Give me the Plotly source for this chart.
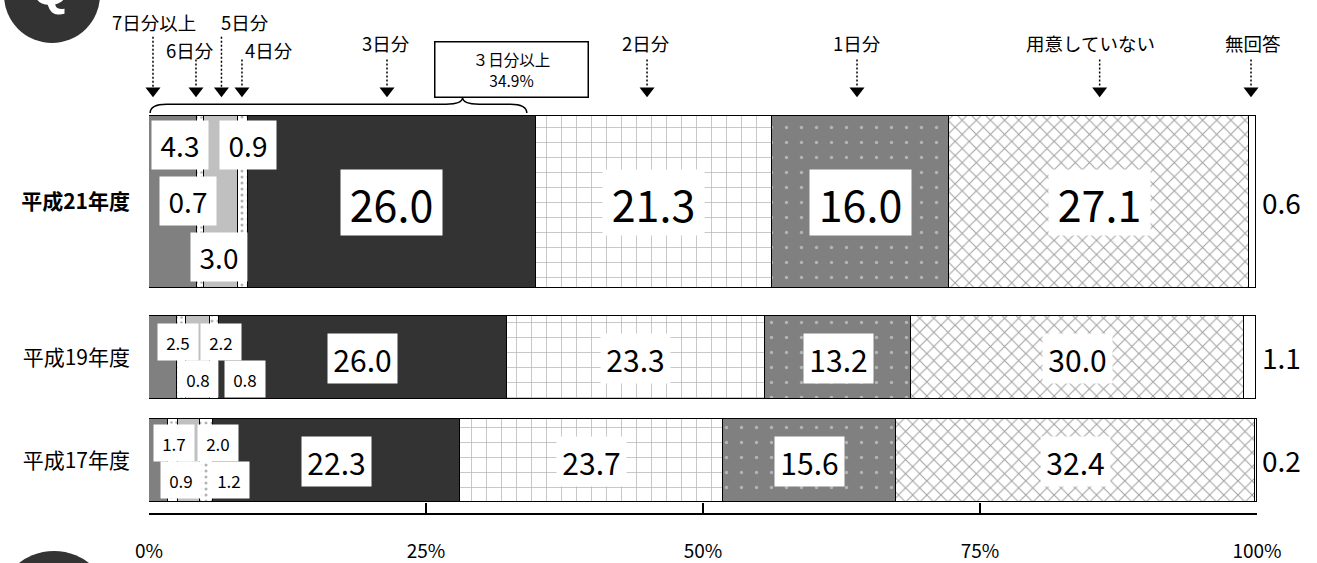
import plotly.graph_objects as go

# ---------------- data ----------------
years = ["平成21年度", "平成19年度", "平成17年度"]
categories = ["7日分以上", "6日分", "5日分", "4日分", "3日分", "2日分", "1日分", "用意していない", "無回答"]
v_h21 = [4.3, 0.7, 3.0, 0.9, 26.0, 21.3, 16.0, 27.1, 0.6]
v_h19 = [2.5, 0.8, 2.2, 0.8, 26.0, 23.3, 13.2, 30.0, 1.1]
v_h17 = [1.7, 0.9, 2.0, 1.2, 22.3, 23.7, 15.6, 32.4, 0.2]
x_ticks = [0, 25, 50, 75, 100]
x_tick_labels = ["0%", "25%", "50%", "75%", "100%"]
summary_label = "３日分以上"

values = [v_h21, v_h19, v_h17]

# ---------------- layout constants (positions / styles) ----------------
W, H = 1317, 563
ML, MR, MT, MB = 149, 60, 0, 46
bar_pos = [203.5, 360, 464]        # bar centres (y axis in px-like units)
bar_thick = [173, 84, 84]

FONT = "Noto Sans CJK JP, sans-serif"

styles = [
    dict(color="#808080"),
    dict(color="white", pattern=dict(shape=".", fgcolor="#666666", bgcolor="white",
                                     size=5, solidity=0.2, fillmode="overlay")),
    dict(color="#c0c0c0"),
    dict(color="white", pattern=dict(shape=".", fgcolor="#666666", bgcolor="white",
                                     size=6, solidity=0.2, fillmode="overlay")),
    dict(color="#333333"),
    dict(color="white", pattern=dict(shape="+", fgcolor="#6e6e6e", bgcolor="white",
                                     size=15, solidity=0.1, fillmode="overlay")),
    dict(color="#808080", pattern=dict(shape=".", fgcolor="#e8e8e8", bgcolor="#808080",
                                       size=15, solidity=0.04, fillmode="overlay")),
    dict(color="white", pattern=dict(shape="x", fgcolor="#444444", bgcolor="white",
                                     size=10, solidity=0.2, fillmode="overlay")),
    dict(color="white"),
]

# small-label placement (x in data units, y offset from bar centre)
small_pos = [
    [(2.8, -57), (3.5, -1), (6.3, 55), (8.95, -57)],
    [(2.6, -15), (4.4, 22), (6.5, -15), (8.7, 22)],
    [(2.3, -18), (2.9, 20), (6.2, -18), (7.2, 20)],
]
big_style = [dict(size=43, w=97, h=61), dict(size=30, w=65, h=45), dict(size=30, w=65, h=45)]
small_style = [dict(size=28, w=52, h=44), dict(size=17, w=36, h=32), dict(size=17, w=36, h=32)]

# header arrows
head_arrow_x = [0.36, 4.24, 6.54, 8.39, 21.48, 44.95, 63.9, 85.8, 99.46]
head_line_top = [37, 60, 37, 60, 60, 60, 60, 60, 60]
head_label_x = [0.45, 3.7, 8.7, 10.8, 21.4, 44.9, 63.9, 85.0, 99.6]
head_label_y = [22, 50, 22, 50, 43, 43, 43, 43, 43]
ARROW_BOTTOM = 88

fig = go.Figure()

for i, cat in enumerate(categories):
    st = styles[i]
    marker = dict(color=st["color"], line=dict(color="black", width=1.5))
    if "pattern" in st:
        marker["pattern"] = st["pattern"]
    fig.add_trace(go.Bar(
        y=bar_pos, x=[vals[i] for vals in values], width=bar_thick,
        orientation="h", name=cat, marker=marker, showlegend=False,
        hoverinfo="x+name",
    ))

annotations = []
for r, vals in enumerate(values):
    cum = 0.0
    for i, v in enumerate(vals):
        start = cum
        cum += v
        txt = f"{v:.1f}"
        if 4 <= i <= 7:
            s = big_style[r]
            annotations.append(dict(
                x=start + v / 2, y=bar_pos[r] + 1, xref="x", yref="y", text=txt,
                showarrow=False, bgcolor="white", borderpad=2, width=s["w"], height=s["h"],
                font=dict(family=FONT, size=s["size"], color="black")))
        elif i < 4:
            s = small_style[r]
            px, dy = small_pos[r][i]
            annotations.append(dict(
                x=px, y=bar_pos[r] + dy, xref="x", yref="y", text=txt,
                showarrow=False, bgcolor="white", borderpad=2, width=s["w"], height=s["h"],
                font=dict(family=FONT, size=s["size"], color="black")))
        else:
            annotations.append(dict(
                x=100, y=bar_pos[r], xref="x", yref="y", text=txt, xanchor="left",
                xshift=3, showarrow=False,
                font=dict(family=FONT, size=28, color="black")))

# header labels
for i, cat in enumerate(categories):
    annotations.append(dict(
        x=head_label_x[i], y=head_label_y[i], xref="x", yref="y", text=cat,
        showarrow=False, font=dict(family=FONT, size=18.5, color="black")))

# summary box (3日分以上)
ge3 = sum(v_h21[:5])
annotations.append(dict(
    x=32.76, y=70, xref="x", yref="y",
    text=f"{summary_label}<br>{ge3:.1f}%", showarrow=False,
    bgcolor="white", bordercolor="black", borderwidth=1.5, borderpad=1,
    width=150, height=52, font=dict(family=FONT, size=15.5, color="black")))

# decorative "Q" badge
annotations.append(dict(
    x=0, y=1, xref="paper", yref="paper", xanchor="center", yanchor="middle",
    xshift=-99, yshift=12,
    text="<b>Q</b>", showarrow=False,
    font=dict(family="Liberation Sans, Arial, sans-serif", size=50, color="white")))

# header arrows: dotted lines + triangle heads
lx, ly = [], []
for ax_, top in zip(head_arrow_x, head_line_top):
    lx += [ax_, ax_, None]
    ly += [top, ARROW_BOTTOM, None]
fig.add_trace(go.Scatter(x=lx, y=ly, mode="lines", cliponaxis=False, showlegend=False,
                         hoverinfo="skip",
                         line=dict(color="black", width=1.5, dash="2px,2px")))
fig.add_trace(go.Scatter(x=head_arrow_x, y=[ARROW_BOTTOM + 3.5] * len(head_arrow_x),
                         mode="markers", cliponaxis=False, showlegend=False, hoverinfo="skip",
                         marker=dict(symbol="triangle-down", size=13, color="black")))

shapes = [
    # curly brace spanning 7日分以上 .. 3日分
    dict(type="path", xref="x", yref="y",
         path="M 0.1,114 Q 0.1,105 1.6,105 L 26.8,105 Q 28.3,105 28.3,98 "
              "Q 28.3,105 29.8,105 L 32.6,105 Q 34.1,105 34.1,114",
         line=dict(color="black", width=1.5)),
    # decorative circles
    dict(type="circle", xref="paper", yref="paper", xsizemode="pixel", ysizemode="pixel",
         xanchor=0, yanchor=1, x0=-145, x1=-49, y0=-43, y1=53,
         fillcolor="#333333", line=dict(width=0), layer="below"),
    dict(type="circle", xref="paper", yref="paper", xsizemode="pixel", ysizemode="pixel",
         xanchor=0, yanchor=0, x0=-152, x1=-38, y0=-152, y1=-38,
         fillcolor="#333333", line=dict(width=0), layer="below"),
]

fig.update_layout(
    width=W, height=H, autosize=False,
    margin=dict(l=ML, r=MR, t=MT, b=MB, pad=0),
    barmode="stack", bargap=0,
    plot_bgcolor="white", paper_bgcolor="white",
    annotations=annotations, shapes=shapes,
    font=dict(family=FONT, color="black"),
    xaxis=dict(range=[0, 100], tickmode="array", tickvals=x_ticks, ticktext=x_tick_labels,
               showgrid=False, zeroline=False, showline=True, linecolor="black", linewidth=1.5,
               ticks="inside", ticklen=10, tickwidth=1.5, tickcolor="black",
               ticklabelstandoff=20,
               tickfont=dict(family="Liberation Sans Narrow, " + FONT, size=19, color="black"),
               fixedrange=True),
    yaxis=dict(range=[H - MB, 0], tickmode="array", tickvals=bar_pos,
               ticktext=["<b>" + years[0] + "</b>", years[1], years[2]],
               showgrid=False, zeroline=False, showline=False, ticks="",
               ticklabelstandoff=18,
               tickfont=dict(family=FONT, size=21, color="black"), fixedrange=True),
)

fig.write_html("out.html")
